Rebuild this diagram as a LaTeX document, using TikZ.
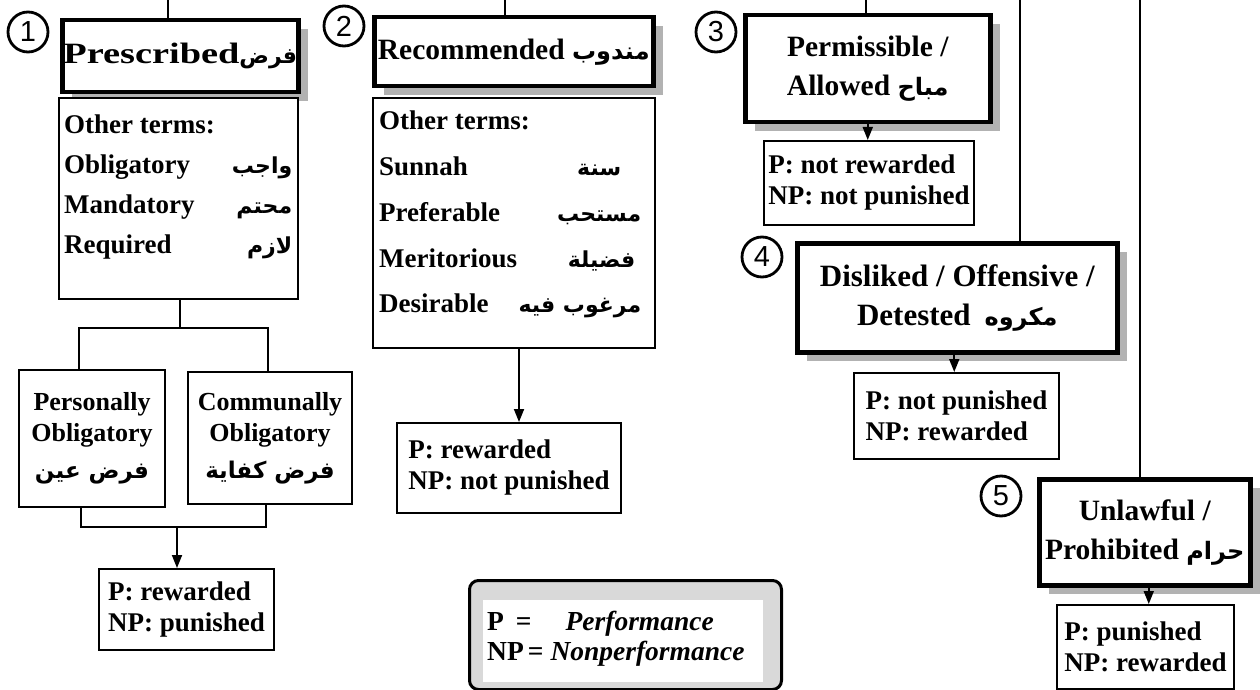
\documentclass[tikz,border=0pt]{standalone}
\usepackage{fontspec}
\setmainfont{Liberation Serif}
\newfontfamily\arabicfont[Script=Arabic]{DejaVu Sans}
\newfontfamily\numfont{Liberation Sans}
\usetikzlibrary{arrows.meta,shadows}
\TeXXeTstate=1
\newcommand\arb[1]{{\arabicfont\beginR #1\endR}}
\begin{document}
\begin{tikzpicture}[x=1pt,y=-1pt,
  conn/.style={line width=1.8pt},
  arr/.style={conn,-{Triangle[length=13pt,width=10pt]}},
  hdr/.style={draw, line width=4.5pt, fill=white, anchor=north west, inner sep=0pt, align=center,
    font=\bfseries\fontsize{29.5}{39}\selectfont,
    drop shadow={shadow xshift=10pt, shadow yshift=-9pt, fill=gray!60, opacity=1}},
  plainbox/.style={draw, line width=2pt, fill=white, anchor=north west, inner sep=0pt},
  res/.style={plainbox, align=left, font=\bfseries\fontsize{27}{31}\selectfont},
  sub/.style={plainbox, align=center, font=\bfseries\fontsize{26}{31}\selectfont},
  listtext/.style={anchor=base west, inner sep=0pt, font=\bfseries\fontsize{27}{40}\selectfont},
  num/.style={circle, draw, line width=2.8pt, minimum size=40pt, inner sep=0pt, font=\numfont\fontsize{29}{29}\selectfont}]
\useasboundingbox[fill=white] (0,0) rectangle (1260,690);

% ---- column 1
\node[hdr, minimum width=236pt, minimum height=72pt] (h1) at (60,18)
  {\scalebox{1.3}[1]{Prescribed}{\fontsize{22}{22}\selectfont\arb{فرض}}};
\node[plainbox, minimum width=239pt, minimum height=201pt] (o1) at (58,97) {};
\node[listtext] (o1t) at (64,133) {\parbox[t]{228pt}{%
  Other terms:\par
  Obligatory\hfill{\fontsize{22}{22}\selectfont\arb{واجب}}\par
  Mandatory\hfill{\fontsize{22}{22}\selectfont\arb{محتم}}\par
  Required\hfill{\fontsize{22}{22}\selectfont\arb{لازم}}}};
\node[num] (n1) at (28,32) {1};

\node[sub, minimum width=146pt, minimum height=137pt] (p1) at (18,369)
  {Personally\\Obligatory\\[6pt]{\fontsize{23}{23}\selectfont\arb{فرض عين}}};
\node[sub, minimum width=164pt, minimum height=132pt] (c1) at (187,371)
  {Communally\\Obligatory\\[6pt]{\fontsize{23}{23}\selectfont\arb{فرض كفاية}}};
\node[res, minimum width=175pt, minimum height=81pt] (r1) at (98,568)
  {P: rewarded\\NP: punished};

% ---- column 2
\node[hdr, minimum width=279pt, minimum height=69pt] (h2) at (372,15)
  {Recommended {\fontsize{24}{24}\selectfont\arb{مندوب}}};
\node[plainbox, minimum width=282pt, minimum height=250pt] (o2) at (372,97) {};
\node[listtext, font=\bfseries\fontsize{27}{45.7}\selectfont] (o2t) at (379,130) {\parbox[t]{262pt}{%
  Other terms:\par
  Sunnah\hfill{\fontsize{22}{22}\selectfont\arb{سنة}}\hspace*{20pt}\par
  Preferable\hfill{\fontsize{22}{22}\selectfont\arb{مستحب}}\par
  Meritorious\hfill{\fontsize{22}{22}\selectfont\arb{فضيلة}}\hspace*{6pt}\par
  Desirable\hfill{\fontsize{22}{22}\selectfont\arb{مرغوب فيه}}}};
\node[num] (n2) at (344,26) {2};
\node[res, minimum width=224pt, minimum height=90pt] (r2) at (396,422)
  {P: rewarded\\NP: not punished};

% ---- legend
\node[draw, line width=3pt, rounded corners=9pt, fill=gray!30, anchor=north west,
  minimum width=312pt, minimum height=109pt] (leg) at (468,579) {};
\node[fill=white, inner sep=0pt, anchor=north west, minimum width=280pt, minimum height=82pt] (legin) at (483,600) {};
\node[anchor=base west, inner sep=0pt, font=\bfseries\fontsize{27.5}{30}\selectfont] (legt) at (487,630)
  {\parbox[t]{280pt}{P\hspace{12pt}=\hspace{34pt}\textit{Performance}\par
   NP\hspace{4pt}=\hspace{7pt}\textit{Nonperformance}}};

% ---- column 3
\node[hdr, minimum width=245pt, minimum height=107pt] (h3) at (743,13)
  {Permissible /\\Allowed {\fontsize{24}{24}\selectfont\arb{مباح}}};
\node[num] (n3) at (716,32) {3};
\node[res, minimum width=210pt, minimum height=84pt] (r3) at (763,140)
  {P: not rewarded\\NP: not punished};

\node[hdr, minimum width=320pt, minimum height=109pt, font=\bfseries\fontsize{31}{39}\selectfont] (h4) at (795,241)
  {Disliked / Offensive /\\Detested\hspace{14pt}{\fontsize{24}{24}\selectfont\arb{مكروه}}};
\node[num] (n4) at (762,257) {4};
\node[res, minimum width=205pt, minimum height=86pt] (r4) at (853,372)
  {P: not punished\\NP: rewarded};

\node[hdr, minimum width=211pt, minimum height=106pt] (h5) at (1037,477)
  {Unlawful /\\Prohibited {\fontsize{24}{24}\selectfont\arb{حرام}}};
\node[num] (n5) at (1001,496) {5};
\node[res, minimum width=177pt, minimum height=84pt] (r5) at (1056,604)
  {P: punished\\NP: rewarded};

% ---- connectors
\coordinate (t1) at (168,0);
\coordinate (t2) at (505,0);
\coordinate (t3) at (866,0);
\coordinate (t4) at (1020,0);
\coordinate (t5) at (1140,0);
\draw[conn] (t1) -- (t1 |- h1.north);
\draw[conn] (t2) -- (t2 |- h2.north);
\draw[conn] (t3) -- (t3 |- h3.north);
\draw[conn] (t4) -- (t4 |- h4.north);
\draw[conn] (t5) -- (t5 |- h5.north);

\coordinate (br) at (180,328);
\draw[conn] (br |- o1.south) -- (br);
\draw[conn] ([xshift=-13pt]p1.north) |- (br) -| ([xshift=-2pt]c1.north);
\coordinate (jn) at (177,527);
\draw[conn] ([xshift=-11pt]p1.south) |- (jn) -| ([xshift=-4pt]c1.south);
\draw[arr] (jn) -- (jn |- r1.north);

\coordinate (a2) at ([xshift=5pt]o2.south);
\draw[arr] (a2) -- (a2 |- r2.north);
\draw[arr] (h3.south) -- (h3.south |- r3.north);
\coordinate (a4) at ([xshift=-3pt]h4.south);
\draw[arr] (a4) -- (a4 |- r4.north);
\coordinate (a5) at ([xshift=4pt]h5.south);
\draw[arr] (a5) -- (a5 |- r5.north);
\end{tikzpicture}
\end{document}
